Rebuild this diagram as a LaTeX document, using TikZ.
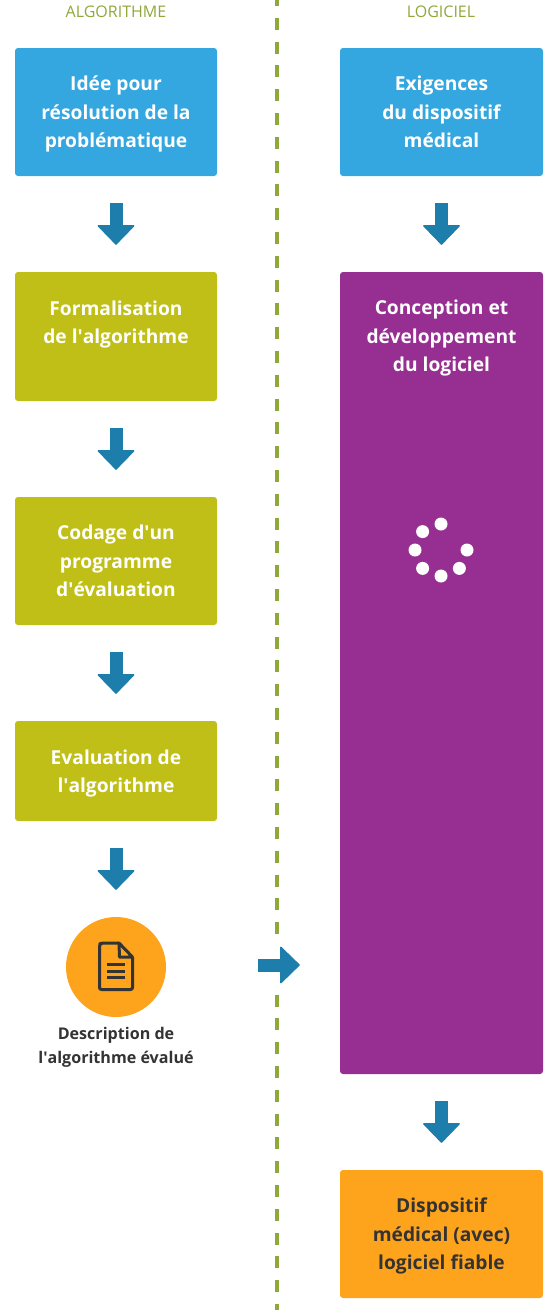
\documentclass[tikz,border=0pt]{standalone}
\usepackage{fontspec}
\setmainfont{Open Sans}
\usepackage{tikz}
\usetikzlibrary{arrows.meta, positioning}
\definecolor{skyblue}{HTML}{34A7E0}
\definecolor{olive}{HTML}{BFBF18}
\definecolor{plum}{HTML}{962F91}
\definecolor{amber}{HTML}{FDA41C}
\definecolor{teal}{HTML}{1D7EAB}
\definecolor{moss}{HTML}{8FA83A}
\definecolor{ink}{HTML}{333333}

\begin{document}
\begin{tikzpicture}[
    x=1pt, y=-1pt,
    box/.style={rectangle, rounded corners=3pt, text=white, align=center, font=\fontsize{19.2}{28.5}\selectfont\bfseries, inner sep=0pt, execute at begin node=\strut, text depth=-2pt},
    needbox/.style={box, fill=skyblue, minimum width=202pt, minimum height=128pt},
    algobox/.style={box, fill=olive, minimum width=202pt},
    softbox/.style={box, fill=plum, minimum width=203pt},
    endbox/.style={box, fill=amber, text=ink, minimum width=203pt, minimum height=128pt},
    header/.style={text=moss, font=\fontsize{16}{20}\selectfont},
    caption/.style={text=ink, align=center, font=\fontsize{16.1}{24}\selectfont\bfseries},
    flow/.style={line width=13pt, draw=teal, -{Triangle[length=20pt, width=38.5pt, line width=1.5pt, round]}, shorten >=27pt, shorten <=27pt},
    rail/.style={draw=moss, line width=4pt, dash pattern=on 12pt off 11.8pt}
]
\useasboundingbox (0,0) rectangle (558,1310);

% Column titles
\node[header] (algotitle) at (116,12) {ALGORITHME};
\node[header] (softtitle) at (441,12) {LOGICIEL};

% Dashed separator, interrupted around the horizontal arrow
\coordinate (railtop) at (277,-6);
\coordinate (railgapa) at (277,935);
\coordinate (railgapb) at (277,994.5);
\coordinate (railend) at (277,1310);
\draw[rail] (railtop) -- (railgapa);
\draw[rail] (railgapb) -- (railend);

% Left column
\node[needbox] (idea) at (116,112) {Idée pour\\résolution de la\\problématique};
\node[algobox, minimum height=129pt] (formal) at (116,336.5) {Formalisation\\de l\textquotesingle algorithme\\~};
\node[algobox, minimum height=128pt] (coding) at (116,561) {Codage d\textquotesingle un\\programme\\d\textquotesingle évaluation};
\node[algobox, minimum height=100pt] (evaluation) at (116,771) {Evaluation de\\l\textquotesingle algorithme};
\node[circle, fill=amber, minimum size=100pt, inner sep=0pt] (report) at (116,967) {};
\node[caption] (reportlabel) at (116,1047) {Description de\\l\textquotesingle algorithme évalué};

% Right column
\node[needbox, minimum width=203pt] (needs) at (441.5,112) {Exigences\\du dispositif\\médical};
\node[softbox, minimum height=802pt] (design) at (441.5,673) {Conception et\\développement\\du logiciel\\[646pt]~};
\node[endbox] (device) at (441.5,1234) {Dispositif\\médical (avec)\\logiciel fiable};

% Loading dots
\coordinate (spinner) at (441,550);
\foreach \a in {0,90,135,180,225,270,315}
    \fill[white] (spinner) ++(\a:26pt) circle (6.5pt);

% Document icon
\draw[ink, line width=3pt, line join=round, rounded corners=2pt] (119,943) -- (101,943) -- (99.5,944.5) -- (99.5,989.5) -- (132.5,989.5) -- (132.5,957);
\draw[ink, line width=3pt, line join=round] (119,943) -- (132.5,957) -- (119.5,957) -- cycle;
\foreach \y in {964,971,977}
    \draw[ink, line width=3pt] (107,\y) -- (125,\y);

% Arrows between steps
\draw[flow] (idea) -- (formal);
\draw[flow] (formal) -- (coding);
\draw[flow] (coding) -- (evaluation);
\draw[flow] (evaluation) -- (report);
\draw[flow] (needs) -- (design);
\draw[flow] (design) -- (device);

% Arrow across the separator
\draw[flow, shorten <=92pt, shorten >=40pt] ([yshift=2pt]report.east) -- ([yshift=2pt]report.east -| design.west);
\end{tikzpicture}
\end{document}
